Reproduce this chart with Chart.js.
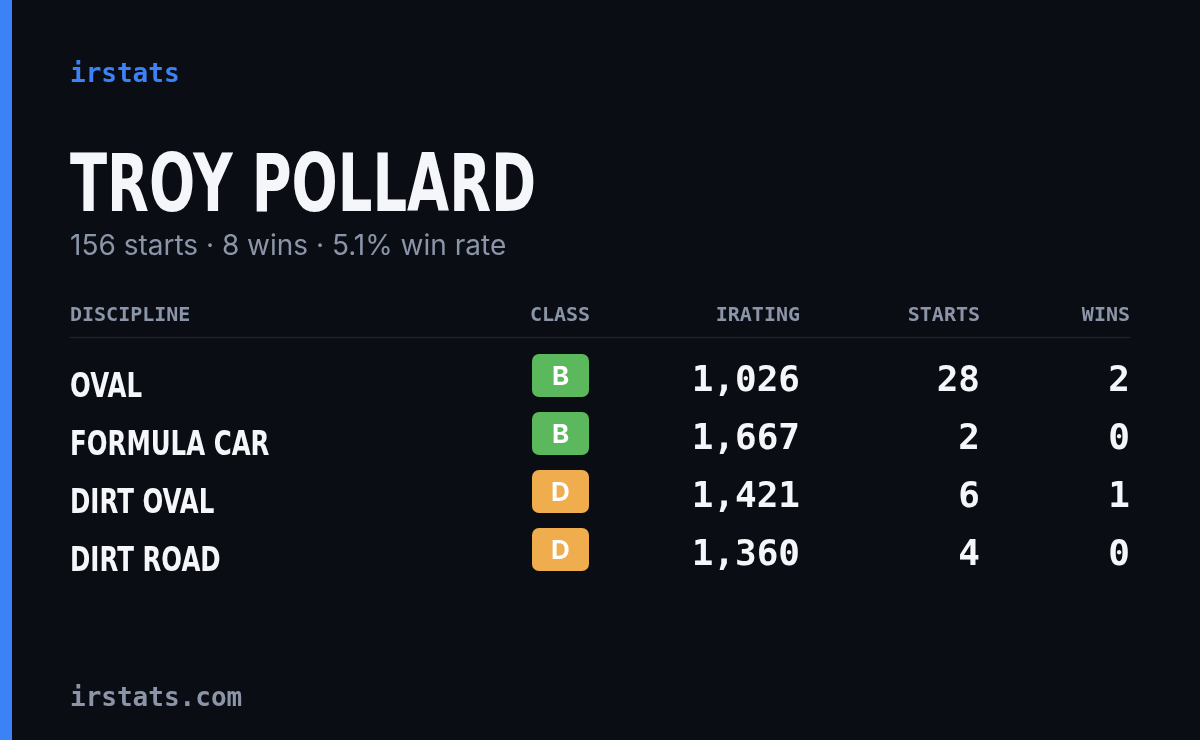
<!DOCTYPE html>
<html>
<head>
<meta charset="utf-8">
<script src="https://cdn.jsdelivr.net/npm/chart.js@4"></script>
<style>
  html, body { margin: 0; padding: 0; background: #0a0d14; }
  #wrap { width: 1200px; height: 740px; position: relative; }
</style>
</head>
<body>
<div id="wrap"><canvas id="card"></canvas></div>
<script>
// Data
const driverName = "TROY POLLARD";
const summary = "156 starts \u00b7 8 wins \u00b7 5.1% win rate";
const columns = ["DISCIPLINE", "CLASS", "IRATING", "STARTS", "WINS"];
const disciplines = ["OVAL", "FORMULA CAR", "DIRT OVAL", "DIRT ROAD"];
const classes = ["B", "B", "D", "D"];
const iratings = [1026, 1667, 1421, 1360];
const starts = [28, 2, 6, 4];
const wins = [2, 0, 1, 0];

const classColors = { A: "#3b82f6", B: "#5cb85c", C: "#e8d44d", D: "#f0ad4e", R: "#d9534f" };
const bold = '"DejaVu Sans", "Liberation Sans", sans-serif';
const mono = '"DejaVu Sans Mono", "Liberation Mono", monospace';

function roundRect(ctx, x, y, w, h, r) {
  ctx.beginPath();
  ctx.moveTo(x + r, y);
  ctx.arcTo(x + w, y, x + w, y + h, r);
  ctx.arcTo(x + w, y + h, x, y + h, r);
  ctx.arcTo(x, y + h, x, y, r);
  ctx.arcTo(x, y, x + w, y, r);
  ctx.closePath();
}

// narrow text by squeezing horizontally (no condensed font installed)
function narrowText(ctx, text, x, y, sx) {
  ctx.save();
  ctx.translate(x, y);
  ctx.scale(sx, 1);
  ctx.textAlign = "left";
  ctx.fillText(text, 0, 0);
  ctx.restore();
}

const cardPlugin = {
  id: "cardPlugin",
  beforeDraw(chart) {
    const ctx = chart.ctx;
    ctx.save();
    ctx.fillStyle = "#0a0d14";
    ctx.fillRect(0, 0, chart.width, chart.height);
    ctx.fillStyle = "#3b82f6";
    ctx.fillRect(0, 0, 12, chart.height);
    ctx.restore();
  },
  afterDraw(chart) {
    const ctx = chart.ctx;
    const yScale = chart.scales.y;
    ctx.save();
    ctx.textBaseline = "alphabetic";

    ctx.fillStyle = "#3b82f6";
    ctx.font = "bold 26px " + mono;
    ctx.textAlign = "left";
    ctx.fillText("irstats", 70, 82);

    ctx.fillStyle = "#f4f6fa";
    ctx.font = "bold 80px " + bold;
    narrowText(ctx, driverName, 70, 211, 0.68);

    ctx.fillStyle = "#8b95a7";
    ctx.font = "28px Inter, 'Noto Sans', sans-serif";
    ctx.fillText(summary, 70, 255);

    // header
    ctx.font = "bold 20px " + mono;
    ctx.fillStyle = "#8b95a7";
    const colX = [70, 560, 800, 980, 1130];
    const colAlign = ["left", "center", "right", "right", "right"];
    columns.forEach((c, i) => {
      ctx.textAlign = colAlign[i];
      ctx.fillText(c, colX[i], 321);
    });
    ctx.strokeStyle = "#1c222e";
    ctx.lineWidth = 1.5;
    ctx.beginPath();
    ctx.moveTo(70, 337.5);
    ctx.lineTo(1130, 337.5);
    ctx.stroke();

    disciplines.forEach((d, i) => {
      const y = yScale.getPixelForValue(i);
      ctx.fillStyle = "#f4f6fa";
      ctx.font = "bold 34px " + bold;
      narrowText(ctx, d, 70, y + 16, 0.72);

      ctx.fillStyle = classColors[classes[i]];
      roundRect(ctx, 532, y - 27, 57, 43, 7);
      ctx.fill();
      ctx.fillStyle = "#ffffff";
      ctx.font = "bold 26px Inter, 'Noto Sans', sans-serif";
      ctx.textAlign = "center";
      ctx.fillText(classes[i], 560.5, y + 4);

      ctx.font = "bold 36px " + mono;
      ctx.textAlign = "right";
      ctx.fillStyle = "#f4f6fa";
      ctx.fillText(iratings[i].toLocaleString("en-US"), 800, y + 10);
      ctx.fillText(String(starts[i]), 980, y + 10);
      ctx.fillText(String(wins[i]), 1130, y + 10);
    });

    ctx.fillStyle = "#8b95a7";
    ctx.font = "bold 26px " + mono;
    ctx.textAlign = "left";
    ctx.fillText("irstats.com", 70, 706);
    ctx.restore();
  }
};

new Chart(document.getElementById("card"), {
  type: "bar",
  data: {
    labels: disciplines,
    datasets: [{ data: iratings, backgroundColor: "rgba(0,0,0,0)", borderWidth: 0 }]
  },
  options: {
    indexAxis: "y",
    responsive: true,
    maintainAspectRatio: false,
    animation: false,
    layout: { padding: { top: 352, bottom: 156, left: 0, right: 0 } },
    plugins: { legend: { display: false }, tooltip: { enabled: false } },
    scales: {
      x: { display: false, min: 0 },
      y: { display: false, offset: true, grid: { display: false } }
    }
  },
  plugins: [cardPlugin]
});
</script>
</body>
</html>
